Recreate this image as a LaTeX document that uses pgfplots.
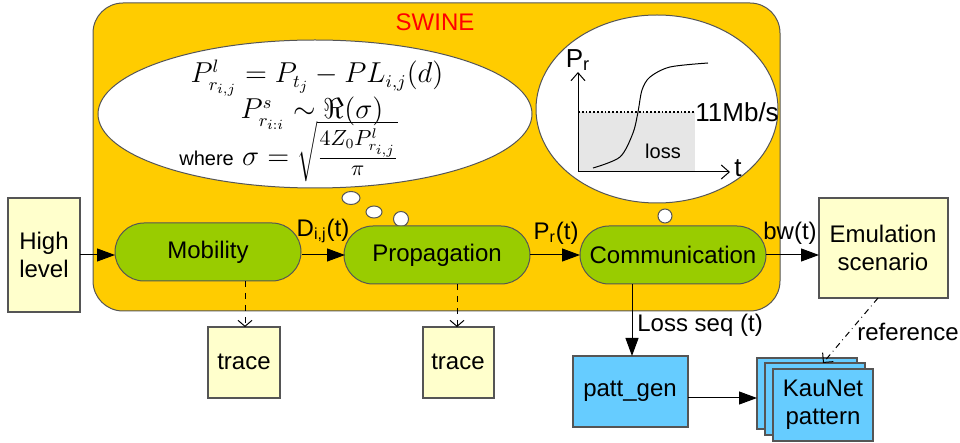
\documentclass[border=0pt]{standalone}
\usepackage{pgfplots}
\pgfplotsset{compat=1.18}
\usepackage{fontspec}
\setmainfont{Liberation Sans}
\usetikzlibrary{shapes.geometric, arrows.meta}
\definecolor{swine}{HTML}{FFCC00}
\definecolor{grn}{HTML}{99CC00}
\definecolor{paley}{HTML}{FFFFCC}
\definecolor{blu}{HTML}{66CCFF}
\definecolor{bord}{HTML}{555555}
\definecolor{lossg}{HTML}{E6E6E6}
\begin{document}
\begin{tikzpicture}[every node/.style={font=\fontsize{12}{14}\selectfont},
  big/.style={-{Triangle[length=9pt,width=6.5pt]}},
  gbox/.style={draw=bord, fill=grn, rounded corners=14.5pt, minimum width=93pt, minimum height=29pt, inner sep=0pt, line width=0.5pt}]
\begin{axis}[hide axis, scale only axis, width=480pt, height=221.5pt,
  xmin=0, xmax=960, ymin=0, ymax=443, y dir=reverse, clip=false]
\path (axis cs:0,0) rectangle (axis cs:960,443);
% big SWINE box
\draw[draw=bord, fill=swine, rounded corners=15pt, line width=0.5pt] (axis cs:93,3) rectangle (axis cs:780,311);
\node[text=red] at (axis cs:435,22) {SWINE};
% left ellipse
\node[ellipse, draw=bord, fill=white, minimum width=217pt, minimum height=74pt, inner sep=0pt, line width=0.5pt] at (axis cs:315,114) {};
\node[anchor=base, inner sep=0pt, font=\fontsize{13.5}{15}\selectfont] at (axis cs:317,83) {$P^l_{r_{i,j}} = P_{t_j} - PL_{i,j}(d)$};
\node[anchor=base, inner sep=0pt, font=\fontsize{13.5}{15}\selectfont] at (axis cs:312,119) {$P^s_{r_{i:i}} \sim \Re(\sigma)$};
\node[anchor=base west, inner sep=0pt, font=\fontsize{15}{17}\selectfont] at (axis cs:179,166) {{\fontsize{10}{12}\selectfont where} $\sigma = \sqrt{\frac{4Z_0P^l_{r_{i,j}}}{\pi}}$};
% right ellipse
\node[ellipse, draw=bord, fill=white, minimum width=121pt, minimum height=94pt, inner sep=0pt, line width=0.5pt] at (axis cs:657,109) {};
\fill[lossg] (axis cs:578,112) rectangle (axis cs:695,172);
\draw[densely dotted, line width=0.9pt] (axis cs:578,112) -- (axis cs:695,112);
\draw[-{Straight Barb[length=4pt,width=7pt]}, line width=0.5pt] (axis cs:578,172) -- (axis cs:578,72);
\draw[-{Straight Barb[length=4pt,width=7pt]}, line width=0.5pt] (axis cs:578,172) -- (axis cs:730,172);
\addplot[black, smooth, line width=0.5pt] coordinates {(593,168) (620,157) (633,133) (638,112) (642,90) (650,77) (670,67) (708,63)};
\node[font=\fontsize{13}{15}\selectfont] at (axis cs:578,60) {P\textsubscript{r}};
\node[font=\fontsize{13}{15}\selectfont] at (axis cs:738,168) {t};
\node[anchor=west, inner sep=0pt, font=\fontsize{13}{15}\selectfont] at (axis cs:695,112) {11Mb/s};
\node[font=\fontsize{10}{12}\selectfont] at (axis cs:663,151) {loss};
% thought bubbles
\node[ellipse, draw=bord, fill=white, minimum width=9pt, minimum height=6.5pt, inner sep=0pt, line width=0.5pt] at (axis cs:351,198) {};
\node[ellipse, draw=bord, fill=white, minimum width=8pt, minimum height=6pt, inner sep=0pt, line width=0.5pt] at (axis cs:374,212) {};
\node[circle, draw=bord, fill=white, minimum size=7.5pt, inner sep=0pt, line width=0.5pt] at (axis cs:401,219) {};
\node[circle, draw=bord, fill=white, minimum size=7pt, inner sep=0pt, line width=0.5pt] at (axis cs:665,216) {};
% green boxes
\node[gbox] at (axis cs:208,252) {Mobility};
\node[gbox] at (axis cs:437,255) {Propagation};
\node[gbox] at (axis cs:673,255) {Communication};
% high level
\draw[draw=bord, fill=paley, line width=0.6pt] (axis cs:8,198) rectangle (axis cs:80,312);
\node[align=center] at (axis cs:44,255) {High\\level};
% emulation
\draw[draw=bord, fill=paley, line width=0.6pt] (axis cs:819,198) rectangle (axis cs:948,298);
\node[align=center] at (axis cs:883,248) {Emulation\\scenario};
% traces
\draw[draw=bord, fill=paley, line width=0.6pt] (axis cs:208,327) rectangle (axis cs:280,398);
\node at (axis cs:244,362) {trace};
\draw[draw=bord, fill=paley, line width=0.6pt] (axis cs:423,327) rectangle (axis cs:494,398);
\node at (axis cs:458,362) {trace};
% patt_gen
\draw[draw=bord, fill=blu, line width=0.6pt] (axis cs:573,356) rectangle (axis cs:688,427);
\node at (axis cs:630,391) {patt\_gen};
% KauNet stacked
\draw[draw=bord, fill=blu, line width=0.6pt] (axis cs:757,358) rectangle (axis cs:857,429);
\draw[draw=bord, fill=blu, line width=0.6pt] (axis cs:765,363) rectangle (axis cs:865,435);
\draw[draw=bord, fill=blu, line width=0.6pt] (axis cs:773,369) rectangle (axis cs:873,441);
\node[align=center] at (axis cs:823,405) {KauNet\\pattern};
% arrows
\draw[big, line width=0.5pt] (axis cs:80,255) -- (axis cs:115,255);
\draw[big, line width=0.5pt] (axis cs:302,255) -- (axis cs:345,255);
\draw[big, line width=0.5pt] (axis cs:530,255) -- (axis cs:580,255);
\draw[big, line width=0.5pt] (axis cs:766,255) -- (axis cs:819,255);
\draw[big, line width=0.5pt] (axis cs:632,284) -- (axis cs:632,356);
\draw[big, line width=0.5pt] (axis cs:688,398) -- (axis cs:757,398);
\node at (axis cs:323,231) {D\textsubscript{i,j}(t)};
\node at (axis cs:556,233) {P\textsubscript{r}(t)};
\node at (axis cs:790,233) {bw(t)};
\node[anchor=west, inner sep=0pt] at (axis cs:637,325) {Loss seq (t)};
% dashed
\draw[dashed, -{Straight Barb[length=3pt,width=7pt]}, line width=0.5pt] (axis cs:245,281) -- (axis cs:245,327);
\draw[dashed, -{Straight Barb[length=3pt,width=7pt]}, line width=0.5pt] (axis cs:457,284) -- (axis cs:457,327);
% reference
\draw[dash dot, -{Straight Barb[length=3.5pt,width=7pt]}, line width=0.5pt] (axis cs:878,298) -- (axis cs:823,363);
\node[anchor=west, inner sep=0pt] at (axis cs:857,332) {reference};
\end{axis}
\end{tikzpicture}
\end{document}
